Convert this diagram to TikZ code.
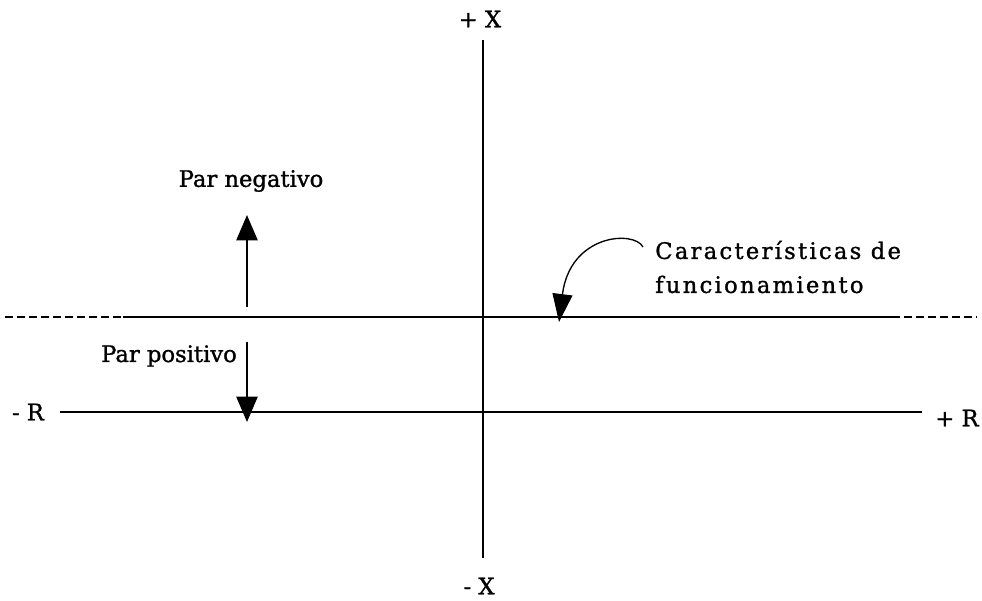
\documentclass[tikz,border=0pt]{standalone}
\usepackage{fontspec}
\setmainfont[FakeBold=1.2]{DejaVu Serif}
\newfontfamily\widefont[LetterSpace=10,FakeBold=1.2]{DejaVu Serif}
\usetikzlibrary{arrows.meta}
\tikzset{
  lbl/.style={font=\fontsize{17}{25.5}\selectfont, inner sep=0pt},
  widelbl/.style={font=\widefont\fontsize{17}{25.5}\selectfont, inner sep=0pt},
  axisv/.style={line width=1pt},
  axish/.style={line width=1.4pt},
  refline/.style={line width=1.4pt},
  refdash/.style={line width=1.4pt, dash pattern=on 6pt off 3pt},
  arr/.style={line width=1pt, -{Triangle[length=19pt,width=16pt]}},
  carr/.style={line width=1pt, -{Triangle[length=21pt,width=15pt]}}
}
\begin{document}
\begin{tikzpicture}[x=0.75pt,y=-0.75pt]
\useasboundingbox (0,0) rectangle (982,600);
% axes
\coordinate (xtop) at (483,40);
\coordinate (xbot) at (483,558);
\coordinate (rl) at (60,412);
\coordinate (rr) at (922,412);
\node[lbl] (px) at (480,19) {+ X};
\node[lbl] (mx) at (479,586) {- X};
\node[lbl] (mr) at (28,412) {- R};
\node[lbl] (pr) at (957,418) {+ R};
\draw[axisv] (xtop) -- (xbot);
\draw[axish] (rl) -- (rr);
% operating characteristic line
\coordinate (d0) at (5,317);
\coordinate (d1) at (123,317);
\coordinate (d2) at (892,317);
\coordinate (d3) at (977,317);
\draw[refdash] (d0) -- (d1);
\draw[refline] (d1) -- (d2);
\draw[refdash] (d2) -- (d3);
% torque labels and arrows
\node[lbl] (pn) at (251,181) {Par negativo};
\node[lbl] (pp) at (169,356) {Par positivo};
\coordinate (na) at (247,307);
\coordinate (nb) at (247,215);
\coordinate (pa) at (247,342);
\coordinate (pb) at (247,422);
\draw[arr] (na) -- (nb);
\draw[arr] (pa) -- (pb);
% characteristics label
\node[widelbl, anchor=west, align=left] (car) at (655,267) {Características de\\funcionamiento};
\coordinate (cs) at (643,247);
\coordinate (ce) at (559,322);
\draw[carr] (cs) .. controls (634,230) and (570,234) .. (ce);
\end{tikzpicture}
\end{document}
